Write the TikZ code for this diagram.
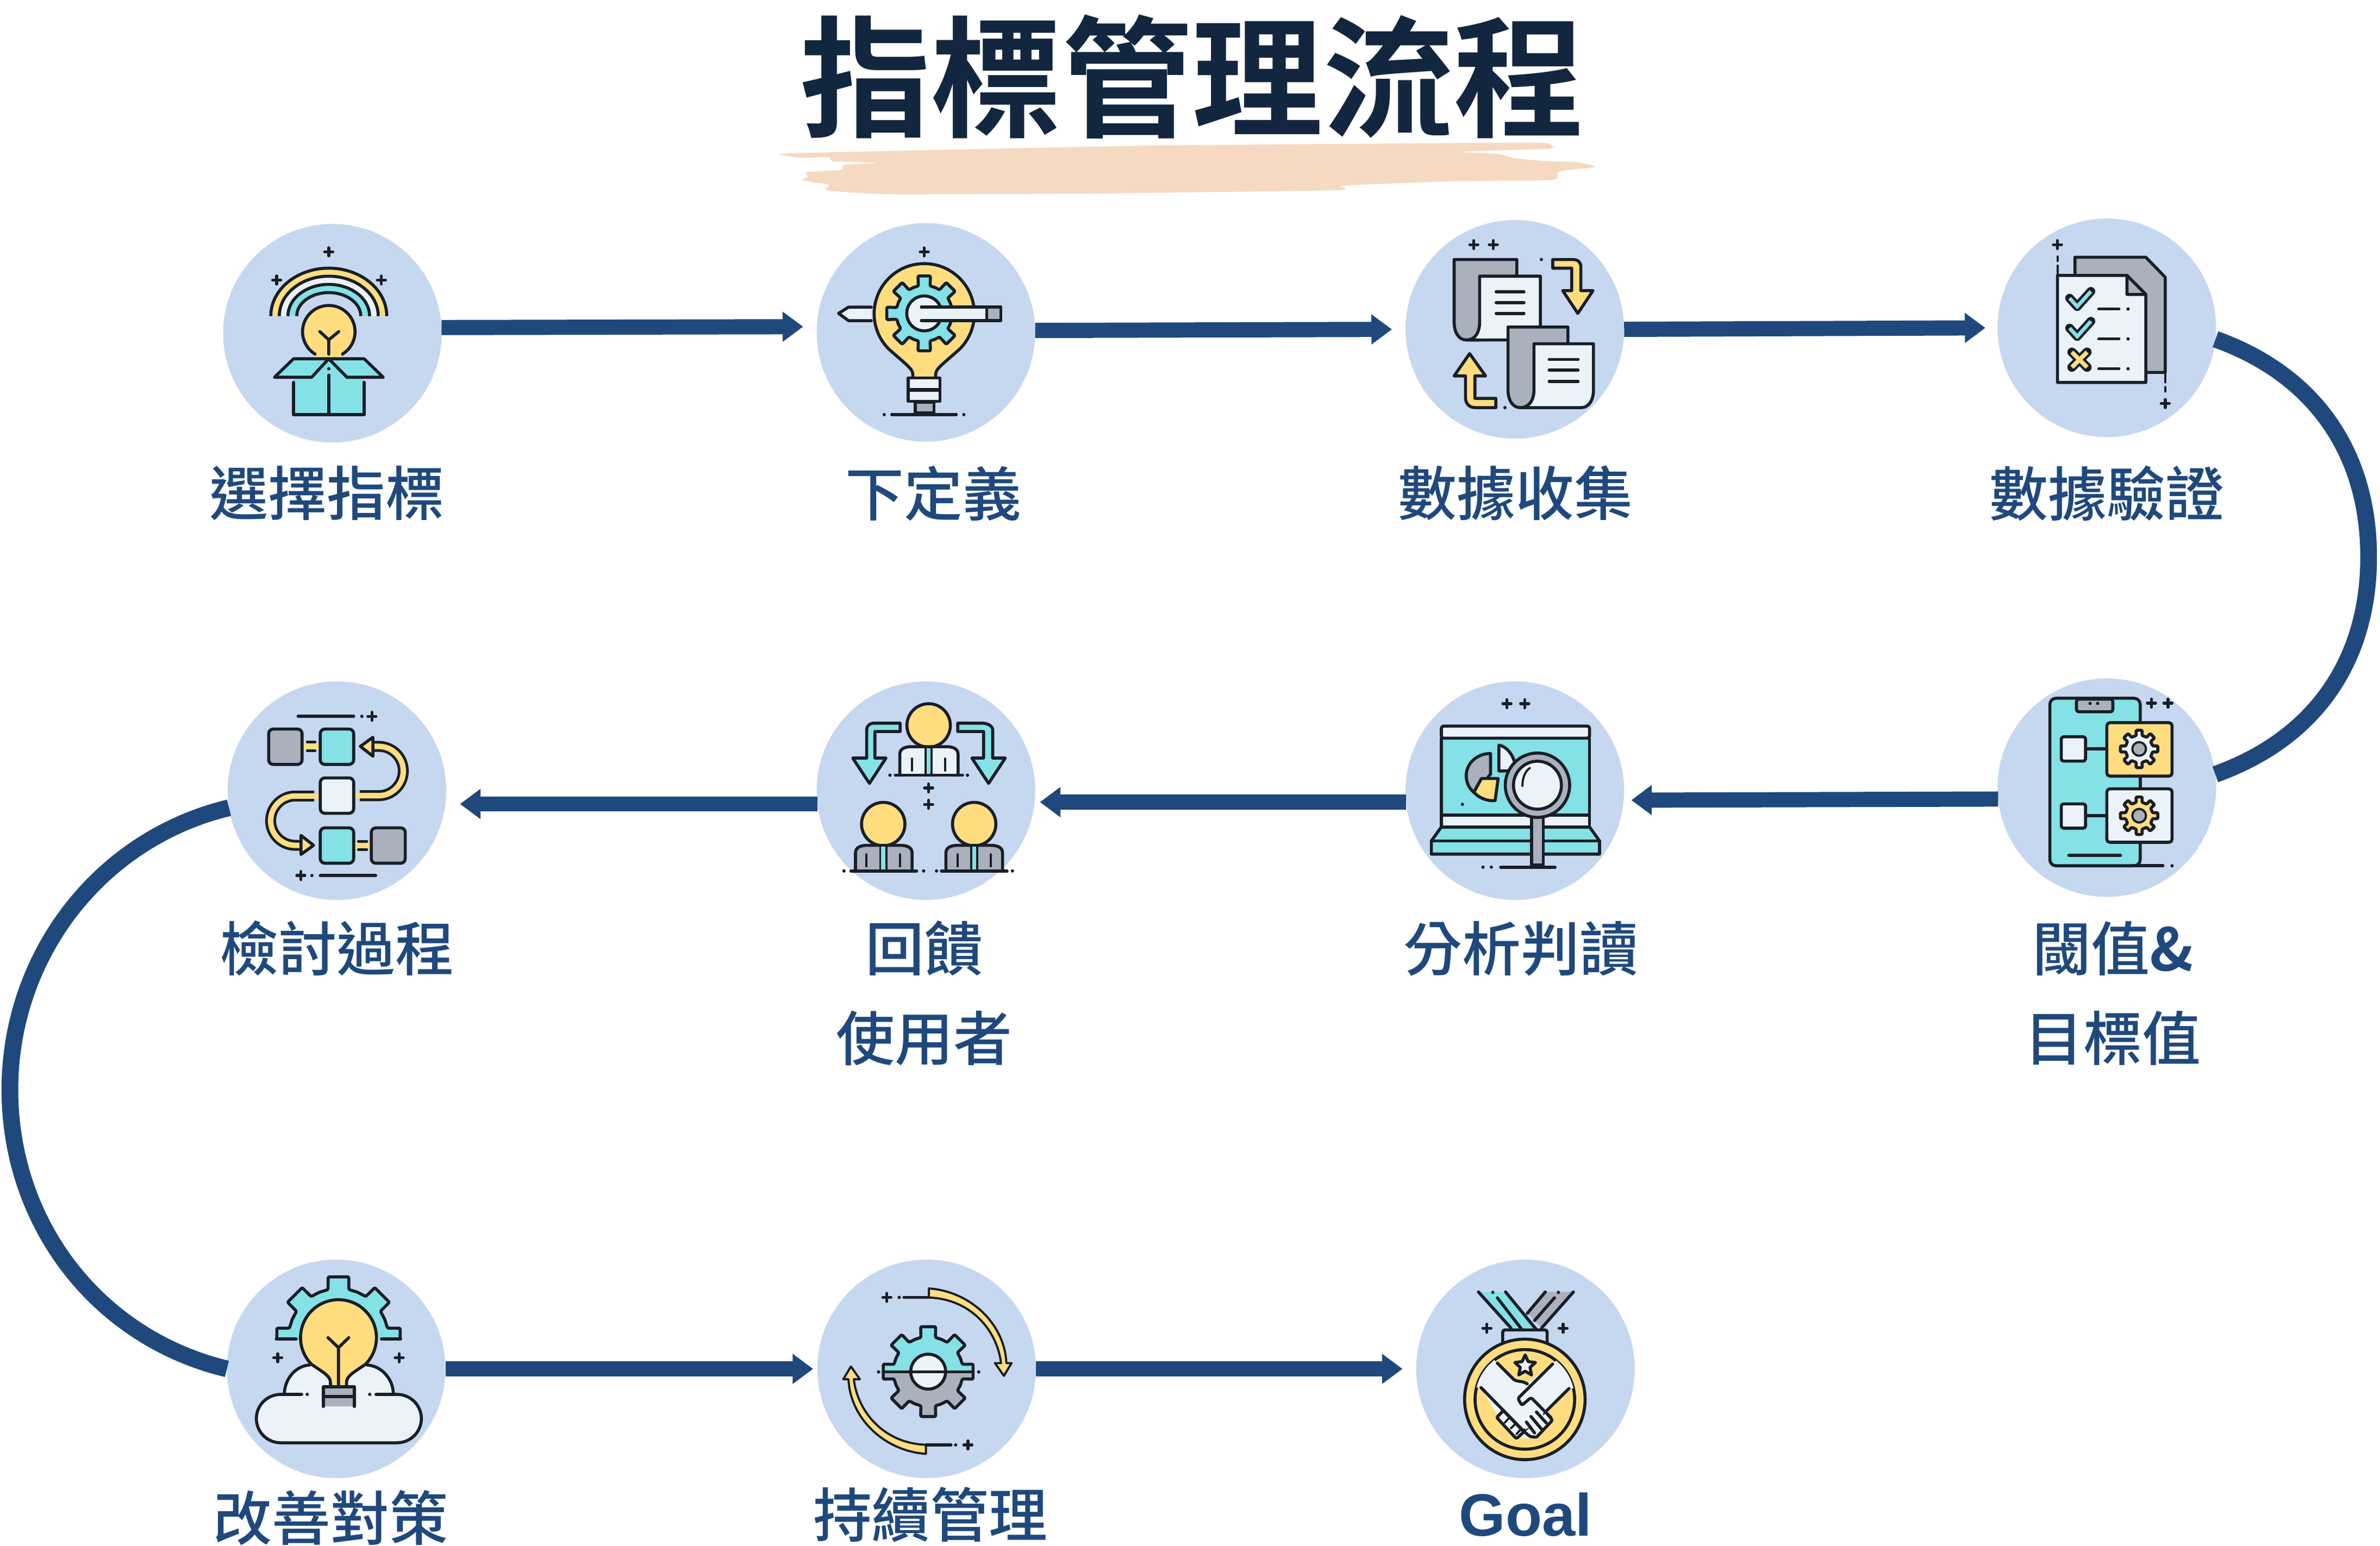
\documentclass[tikz,border=0pt]{standalone}
\usepackage{fontspec}
\usetikzlibrary{arrows.meta}
\newfontfamily\lab{Noto Sans CJK TC Medium}
\newfontfamily\ttl{Noto Sans CJK TC Bold}
\newfontfamily\gol{Liberation Sans}[BoldFont={Liberation Sans Bold}]
\definecolor{flow}{HTML}{1F497D}
\definecolor{disc}{HTML}{C6D8F0}
\definecolor{brush}{HTML}{F5D9C1}
\definecolor{ttlc}{HTML}{12263F}
\definecolor{ink}{HTML}{191E27}
\definecolor{icy}{HTML}{FFDD7F}
\definecolor{icc}{HTML}{84E1E6}
\definecolor{icl}{HTML}{ECF3F8}
\definecolor{icg}{HTML}{AAB1BC}
\tikzset{
 x=1mm,y=-1mm,
 disc node/.style={circle,fill=disc,inner sep=0,outer sep=0,minimum size=144mm},
 conn/.style={draw=flow,line width=10mm,-{Triangle[length=13.5mm,width=19mm]}},
 arcconn/.style={draw=flow,line width=11mm},
 lbl/.style={text=flow,inner sep=0,font=\fontsize{110}{110}\selectfont\lab},
 ic/.style={draw=ink,line width=2mm,line join=round,line cap=round},
 icthin/.style={draw=ink,line width=1.4mm,line join=round,line cap=round},
}
\newcommand\spk[2]{\begin{scope}[shift={(#1,#2)}]\draw[ink,line width=1.9mm,line cap=round] (-2.7,0)--(2.7,0) (0,-2.7)--(0,2.7);\end{scope}}
\newcommand\dotm[2]{\fill[ink] (#1,#2) circle[radius=1.1];}
% x, y, Rout, Rin, hole, fill
\newcommand\gearm[6]{\begin{scope}[shift={(#1,#2)}]
 \filldraw[ic,fill=#6,rounded corners=.8mm] (-12:#4) \foreach \a in {0,45,...,315} { -- (\a-12:#4) -- (\a-9.5:#3) -- (\a+9.5:#3) -- (\a+12:#4) -- (\a+22.5:#4) } -- cycle;
 \end{scope}}
% cx, cy, r, yneck, halfneck
\newcommand\bulbm[5]{\filldraw[ic,fill=icy,shift={(#1,#2)}] (-#5,#4-#2) -- (-#5,#4-#2-3) .. controls (-#5,#4-#2-7) and (-#5-3.5,#4-#2-9) .. (135:#3) arc[start angle=135,end angle=405,radius=#3] .. controls (#5+3.5,#4-#2-9) and (#5,#4-#2-7) .. (#5,#4-#2-3) -- (#5,#4-#2);}
% cx, cy head, bodyfill, x1, x2, ybottom
\newcommand\personm[6]{\filldraw[ic,fill=icy] (#1,#2) circle[radius=14.3];
 \filldraw[ic,fill=#3] (#4,#6) -- (#4,#2+19) .. controls (#4,#2+15) and (#4+4,#2+14) .. (#4+8,#2+14) -- (#5-8,#2+14) .. controls (#5-4,#2+14) and (#5,#2+15) .. (#5,#2+19) -- (#5,#6);
 \fill[icc] (#1-1.6,#2+15) rectangle (#1+1.6,#6);
 \draw[icthin] (#1-2,#2+15) -- (#1-2,#6) (#1+2,#2+15) -- (#1+2,#6) (#1-11,#6-11) -- (#1-11,#6-3) (#1+11,#6-11) -- (#1+11,#6-3);
 \draw[ic] (#4-3,#6) -- (#5+3,#6);}
\newcommand\swoop{\draw[ink,line width=7.2mm] (237,524.3) -- (249.5,524.3) .. controls (258.4,524.3) and (265.7,517) .. (265.7,508) .. controls (265.7,499) and (258.4,491.8) .. (249.5,491.8) -- (244,491.8);
 \draw[icy,line width=3.6mm] (233,524.3) -- (249.5,524.3) .. controls (258.4,524.3) and (265.7,517) .. (265.7,508) .. controls (265.7,499) and (258.4,491.8) .. (249.5,491.8) -- (244,491.8);
 \filldraw[ic,fill=icy] (237.4,491.8) -- (245.7,485.8) -- (245.7,498.3) -- cycle;}
\newcommand\crescent{\filldraw[icthin,fill=icy] (612,849) .. controls (640,851) and (662,873) .. (663,898.2) -- (666.4,898.2) -- (661.4,906.6) -- (655.5,898.2) -- (659.5,898.2) .. controls (657,877) and (640,856) .. (612,855) -- cycle;
 \draw[ic] (595.5,854.9) -- (612,854.9);
 \dotm{592.4}{854.9}\spk{584.3}{854.9}}
\begin{document}
\begin{tikzpicture}
\useasboundingbox (0,0) rectangle (1568,1018.7);
\fill[white] (0,0) rectangle (1568,1018.7);
% brush
\fill[brush] plot[smooth cycle,tension=.3] coordinates {(516,102.3)(525,100.9)(757,96)(1005.6,94)(1022,96)(1020,98)(962,100)(987,101.5)(998.3,104.4)(1020,106.2)(1038.5,106.8)(1051,110)(1027.5,112.8)(1025.6,117.6)(1016.5,118.8)(958,119.4)(885,122.3)(881,125.3)(720.5,127.5)(589,128)(549,126)(544,124.7)(546,121.7)(528.7,118.8)(532.4,116.4)(531,113.4)(554.3,112)(556,108.6)(578,107.4)(548.8,106.2)(546,103.6)(527,104)};
\node[inner sep=0,text=ttlc,font=\fontsize{245}{245}\selectfont\ttl] (title) at (785.5,50.5) {指標管理流程};
% discs
\node[disc node] (n1) at (219,219.6) {};
\node[disc node] (n2) at (610,219) {};
\node[disc node] (n3) at (998,217) {};
\node[disc node] (n4) at (1388,216) {};
\node[disc node] (n5) at (1388,519) {};
\node[disc node] (n6) at (998,521) {};
\node[disc node] (n7) at (610,521) {};
\node[disc node] (n8) at (222,521) {};
\node[disc node] (n9) at (221.5,902) {};
\node[disc node] (n10) at (610.5,902) {};
\node[disc node] (n11) at (1005,902) {};
% connectors
\draw[conn,shorten >=9mm] (n1.3.2) -- (n2.177.3);
\draw[conn,shorten >=9mm] (n2.1.75) -- (n3.180);
\draw[conn,shorten >=8mm] (n3.0.8) -- (n4.180);
\draw[conn,shorten >=5mm] (n5.186.9) -- (n6.-5.3);
\draw[conn,shorten >=3.5mm] (n6.186.8) -- (n7.-6.8);
\draw[conn,shorten >=9.6mm] (n7.187.6) -- (n8.-7.6);
\draw[conn,shorten >=2.8mm] (n9.0) -- (n10.180);
\draw[conn,shorten >=9mm] (n10.0) -- (n11.180);
\coordinate (rmid) at (1560.5,367);
\coordinate (lmid) at (6.5,718);
\draw[arcconn] (n4.-6) .. controls +(67,24) and (1560.5,300) .. (rmid) .. controls (1560.5,434) and +(67,-24) .. (n5.7);
\draw[arcconn] (n8.189.6) .. controls +(-85.5,20.5) and (6.5,630) .. (lmid) .. controls (6.5,806) and +(-85.5,-20.5) .. (n9.180.8);
% icon 1
\spk{216.6}{165.9}\spk{182.3}{184.5}\spk{251.3}{184.5}
\filldraw[ic,fill=icy,line cap=butt] (178.4,208.3) arc[start angle=180,end angle=360,x radius=38.2,y radius=31.6];
\filldraw[ic,fill=icl,line cap=butt] (184,208.3) arc[start angle=180,end angle=360,x radius=32.6,y radius=26.3];
\filldraw[ic,fill=icc,line cap=butt] (189.7,208.3) arc[start angle=180,end angle=360,x radius=26.9,y radius=20.9];
\filldraw[ic,fill=disc,line cap=butt] (195.5,208.3) arc[start angle=180,end angle=360,x radius=21.1,y radius=15.5];
\fill[icc] (193.4,245) rectangle (239.9,273.2);
\fill[icc] (205.3,248.6) -- (216.6,237.6) -- (228.6,248.6) -- cycle;
\fill[icy] (207.7,233) rectangle (225.5,236.4);
\filldraw[ic,fill=icy] (207.7,233.4) arc[start angle=121,end angle=419,radius=17.3];
\draw[line width=2.4mm,icy] (208.5,234.3) -- (224.7,234.3);
\draw[ic] (210.7,218.5) -- (216.6,223.9) -- (223.2,218.5) (216.6,223.9) -- (216.6,233.4);
\filldraw[ic,fill=icc] (193.4,236.4) -- (216.6,236.4) -- (205.3,248.6) -- (180.8,248.6) -- cycle;
\filldraw[ic,fill=icc] (239.9,236.4) -- (216.6,236.4) -- (228.6,248.6) -- (252.5,248.6) -- cycle;
\dotm{216.6}{243}
\draw[ic] (216.6,247.2) -- (216.6,272.8) (193.4,251.9) -- (193.4,273.2) -- (239.9,273.2) -- (239.9,251.9);
% icon 2
\spk{608.9}{166}
\bulbm{608.9}{206.7}{33}{250}{7.5}
\gearm{608.9}{206.5}{25}{18.5}{12}{icc}
\filldraw[ic,fill=icl] (608.9,206.5) circle[radius=11.5];
\fill[icy] (618,202.4) rectangle (642,211.3);
\filldraw[ic,fill=icl] (574,202.4) -- (559,202.4) -- (552.5,206.5) -- (559,211.3) -- (574,211.3);
\filldraw[ic,fill=icl] (607,202.4) -- (659.4,202.4) -- (659.4,211.3) -- (607,211.3);
\filldraw[ic,fill=icg] (650,202.4) rectangle (659.4,211.3);
\filldraw[ic,fill=icl] (598.4,249) rectangle (619.3,256.5);
\filldraw[ic,fill=icl] (598.4,257.3) rectangle (619.3,264.5);
\filldraw[ic,fill=icg] (603,265) -- (603,272) -- (615.4,272) -- (615.4,265) -- cycle;
\draw[ic] (587.5,273.2) -- (630,273.2);
\dotm{582.5}{273.2}\dotm{635}{273.2}
% icon 3
\spk{971}{161.2}\spk{983.8}{161.2}
\filldraw[ic,fill=icg] (958,171) -- (999.3,171) -- (999.3,200) -- (975,224) -- (966,224) .. controls (961,224) and (958,219) .. (958,212) -- cycle;
\filldraw[ic,fill=icl] (974.8,182) -- (1014.8,182) -- (1014.8,215) -- (993.5,224) -- (966,224) .. controls (972,224) and (974.8,219) .. (974.8,212) -- cycle;
\draw[ic] (985.7,192.2) -- (1004,192.2) (985.7,199.4) -- (1004,199.4) (985.7,206.5) -- (1004,206.5);
\filldraw[ic,fill=icg] (993.5,215.5) -- (1033,215.5) -- (1033,245) -- (1010,268.6) -- (1001.5,268.6) .. controls (996.5,268.6) and (993.5,263.5) .. (993.5,257) -- cycle;
\filldraw[ic,fill=icl] (1010.6,226.5) -- (1049.8,226.5) -- (1049.8,257) .. controls (1049.8,263.5) and (1046.8,268.6) .. (1041.8,268.6) -- (1001.5,268.6) .. controls (1007.5,268.6) and (1010.6,263.5) .. (1010.6,257) -- cycle;
\draw[ic] (1020.6,236.8) -- (1039.7,236.8) (1020.6,243.9) -- (1039.7,243.9) (1020.6,251.3) -- (1039.7,251.3);
\filldraw[ic,fill=icy] (1023,171) -- (1036,171) .. controls (1040,171) and (1041.5,173) .. (1041.5,176) -- (1041.5,191.5) -- (1049.5,191.5) -- (1039.5,206.5) -- (1029.5,191.5) -- (1035.5,191.5) -- (1035.5,176.7) -- (1023,176.7) -- cycle;
\dotm{1015.5}{171}
\filldraw[ic,fill=icy] (985.5,268.6) -- (972,268.6) .. controls (968,268.6) and (965.5,266) .. (965.5,262) -- (965.5,247.7) -- (958,247.7) -- (968.2,233) -- (978.7,247.7) -- (971.7,247.7) -- (971.7,262.5) -- (985.5,262.5) -- cycle;
\dotm{991.5}{268.6}
% icon 4
\spk{1355.5}{161.2}
\draw[icthin] (1355.5,169) -- (1355.5,172) (1355.5,175) -- (1355.5,181);
\filldraw[ic,fill=icg] (1367,181) -- (1367,169.5) -- (1413.7,169.5) -- (1426.5,182.7) -- (1426.5,245.4) -- (1414,245.4) -- cycle;
\filldraw[ic,fill=icl] (1355.5,181.5) -- (1401.3,181.5) -- (1413.7,194) -- (1413.7,252) -- (1355.5,252) -- cycle;
\filldraw[ic,fill=icg] (1401.3,181.5) -- (1413.7,194) -- (1401.3,194) -- cycle;
\foreach \yy in {0,19.7}{
 \draw[ink,line width=5.8mm,line join=round,line cap=round] (1363.5,196.5+\yy) -- (1368.5,202+\yy) -- (1377.5,192+\yy);
 \draw[icc,line width=2.4mm] (1363.5,196.5+\yy) -- (1368.5,202+\yy) -- (1377.5,192+\yy);}
\draw[ink,line width=6mm,line cap=round] (1365,232) -- (1375,242) (1375,232) -- (1365,242);
\draw[icy,line width=2.8mm] (1365,232) -- (1375,242) (1375,232) -- (1365,242);
\draw[ic] (1382.7,203.6) -- (1396,203.6) (1382.7,223.3) -- (1396,223.3) (1382.7,243) -- (1396,243);
\dotm{1402}{203.6}\dotm{1402}{223.3}\dotm{1402}{243}
\draw[icthin] (1426.5,246) -- (1426.5,252) (1426.5,255) -- (1426.5,258);
\spk{1426.5}{265.9}
% icon 5
\spk{1417.4}{463.3}\spk{1428.3}{463.3}
\filldraw[ic,fill=icc,rounded corners=4mm] (1350.5,460.1) rectangle (1410,570.5);
\filldraw[ic,fill=icg,rounded corners=1.5mm] (1368,460.7) -- (1368,469) -- (1392,469) -- (1392,460.7) -- cycle;
\fill[ink] (1377,463.5) circle[radius=1.1] (1382,463.5) circle[radius=1.1];
\draw[ic] (1374,493.5) -- (1388,493.5) (1374,537.5) -- (1388,537.5) (1410,511.4) -- (1410,519.8) (1363,563.7) -- (1397,563.7) (1405,570.5) -- (1425,570.5);
\dotm{1431}{570.5}
\filldraw[ic,fill=icl,rounded corners=1.5mm] (1358,485.5) rectangle (1374,501.5);
\filldraw[ic,fill=icl,rounded corners=1.5mm] (1358,529.7) rectangle (1374,545.7);
\filldraw[ic,fill=icy,rounded corners=2mm] (1388,476.2) rectangle (1431,511.4);
\filldraw[ic,fill=icl,rounded corners=2mm] (1388,519.8) rectangle (1431,555);
\gearm{1409.3}{493.5}{12.5}{9}{5}{icl}
\gearm{1409.3}{537.5}{12.5}{9}{5}{icy}
\filldraw[icthin,fill=icg] (1409.3,493.5) circle[radius=4.5] (1409.3,537.5) circle[radius=4.5];
% icon 6
\spk{992.8}{463.7}\spk{1004.5}{463.7}
\filldraw[ic,fill=icc] (949.6,544.9) -- (943,554.1) -- (943,562.8) -- (1053.8,562.8) -- (1053.8,554.1) -- (1047.2,544.9) -- cycle;
\draw[ic] (943,554.1) -- (1053.8,554.1);
\filldraw[ic,fill=icc] (949.6,486.4) rectangle (1047.2,537.1);
\filldraw[ic,fill=icl,rounded corners=1.5mm] (949.6,478.4) -- (949.6,486.4) -- (1047.2,486.4) -- (1047.2,478.4) -- cycle;
\filldraw[ic,fill=icl] (949.6,537.1) rectangle (1047.2,544.9);
\filldraw[ic,fill=icg] (982,510) -- (982,496.5) .. controls (973,496.5) and (966,503) .. (966,511) .. controls (966,516) and (968,520) .. (972,522.8) -- cycle;
\filldraw[ic,fill=icy] (987,513) -- (976,513) -- (971,522) .. controls (975,526.5) and (981,528) .. (985,527.5) -- cycle;
\filldraw[ic,fill=icl] (987.5,491) .. controls (993,492) and (998,498) .. (999,508) -- (987.5,508) -- cycle;
\dotm{963.5}{530}
\filldraw[ic,fill=icg] (1009,538) rectangle (1016.8,570);
\filldraw[ic,fill=icg] (1012.9,517.4) circle[radius=21.2];
\filldraw[ic,fill=icl] (1012.9,517.4) circle[radius=15.8];
\draw[icthin] (1003,518) .. controls (1003,512) and (1005,508) .. (1008,506);
\draw[ic] (988.7,571.4) -- (1024.5,571.4);
\dotm{977}{571.4}\dotm{982.5}{571.4}
% icon 7
\filldraw[ic,fill=icc] (593,476.5) -- (576,476.5) .. controls (573,476.5) and (571,478) .. (571,481) -- (571,499.5) -- (561.8,499.5) -- (572.8,516.2) -- (583.7,499.5) -- (576.4,499.5) -- (576.4,482) -- (593,482) -- cycle;
\filldraw[ic,fill=icc] (631,476.5) -- (647,476.5) .. controls (650,476.5) and (654,478) .. (654,481) -- (654,499.5) -- (662.3,499.5) -- (651.3,516.2) -- (640.3,499.5) -- (648,499.5) -- (648,482) -- (631,482) -- cycle;
\personm{611.8}{478}{icl}{592.8}{631.2}{510.8}
\dotm{586.3}{510.8}\dotm{637.4}{510.8}
\spk{611.8}{519.2}\spk{611.8}{530}
\personm{581.9}{543}{icg}{563.6}{600.9}{573.9}
\personm{641.8}{543}{icg}{623.2}{660.5}{573.9}
\dotm{556}{573.9}\dotm{608.5}{573.9}\dotm{617}{573.9}\dotm{667}{573.9}
% icon 8
\draw[ic] (196.4,472) -- (233,472) (211,576.9) -- (247.5,576.9);
\dotm{238.4}{472}\spk{245}{472}\dotm{205.5}{576.9}\spk{198.2}{576.9}
\fill[icy] (199,489.3) rectangle (211,494.3);
\draw[ic] (202.5,489) -- (207.5,489) (202.5,494.7) -- (207.5,494.7);
\fill[icy] (233,554.6) rectangle (244.6,559.6);
\draw[ic] (236.2,554.4) -- (241.6,554.4) (236.2,559.9) -- (241.6,559.9);
\swoop
\begin{scope}[rotate around={180:(222,524.4)}]\swoop\end{scope}
\filldraw[ic,fill=icg,rounded corners=3mm] (177,480.4) rectangle (199,503.7);
\filldraw[ic,fill=icc,rounded corners=3mm] (211,480.4) rectangle (233,503.7);
\filldraw[ic,fill=icl,rounded corners=3mm] (211,512.6) rectangle (233,535.9);
\filldraw[ic,fill=icc,rounded corners=3mm] (211,545.5) rectangle (233,568.8);
\filldraw[ic,fill=icg,rounded corners=3mm] (244.6,545.5) rectangle (267,568.8);
% icon 9
\spk{183}{894.7}\spk{263}{894.7}
\begin{scope}
\clip (170,830) rectangle (276,882.4);
\gearm{223}{882}{41.2}{33}{0}{icc}
\end{scope}
\draw[ic] (182,882.3) -- (195.2,882.3) (251.3,882.3) -- (263.9,882.3);
\fill[icl] (185,918.8) .. controls (176,918.8) and (168.9,926) .. (168.9,934.7) .. controls (168.9,943.5) and (176,950.7) .. (185,950.7) -- (261.5,950.7) .. controls (270.5,950.7) and (277.6,943.5) .. (277.6,934.7) .. controls (277.6,926) and (270.5,918.8) .. (261.5,918.8) -- (259.1,918.8) .. controls (258.5,908) and (251,900) .. (241.8,899.4) -- (204.1,899.4) .. controls (195,900) and (188,908) .. (187.4,918.8) -- cycle;
\draw[ic] (198.8,918.8) -- (185,918.8) .. controls (176,918.8) and (168.9,926) .. (168.9,934.7) .. controls (168.9,943.5) and (176,950.7) .. (185,950.7) -- (261.5,950.7) .. controls (270.5,950.7) and (277.6,943.5) .. (277.6,934.7) .. controls (277.6,926) and (270.5,918.8) .. (261.5,918.8) -- (247.7,918.8);
\draw[ic] (187.4,917.5) .. controls (188,908) and (195,900) .. (204.1,899.4) (259.1,917.5) .. controls (258.5,908) and (251,900) .. (241.8,899.4);
\dotm{202.4}{918.8}\dotm{243.6}{918.8}
\bulbm{223}{881.4}{25}{914}{5.3}
\draw[ic] (216.1,881.4) -- (223,888) -- (229.8,881.4) (223,888) -- (223,913);
\fill[icg] (213.1,913.7) rectangle (233.4,926.8);
\draw[ic] (213.1,926.8) -- (213.1,913.7) -- (233.4,913.7) -- (233.4,926.8) (213.1,920.2) -- (233.4,920.2);
% icon 10
\begin{scope}
\clip (570,870) rectangle (650,904);
\gearm{611.5}{903.8}{30}{23}{0}{icc}
\end{scope}
\begin{scope}
\clip (570,904) rectangle (650,940);
\gearm{611.5}{903.8}{30}{23}{0}{icg}
\end{scope}
\filldraw[ic,fill=icl] (611.5,903.8) circle[radius=11.5];
\draw[ic] (583,904) -- (640,904);
\dotm{578.8}{904}\dotm{644.8}{904}
\crescent
\begin{scope}[rotate around={180:(611,903.5)}]\crescent\end{scope}
% icon 11
\spk{979.6}{875.2}\spk{1029.8}{875.2}
\fill[icg] (1018.1,851.3) -- (1036.6,851.3) -- (1015.7,875) -- (1006.2,865.4) -- cycle;
\draw[ic] (1018.1,851.3) -- (1006.2,865.4) (1036.6,851.3) -- (1015.7,875) (1024.1,855.2) -- (1011,870.1);
\dotm{1026.7}{851.6}
\fill[icc] (974,851.3) -- (991.9,851.3) -- (1012.2,876.1) -- (995.4,876.7) -- cycle;
\draw[ic] (974,851.3) -- (995.4,875) (991.9,851.3) -- (1012.2,876.1) (986.5,855.2) -- (1002.6,876);
\dotm{983.5}{851.6}
\draw[ic,rounded corners=1.5mm] (990,884) -- (990,876.3) -- (1019.3,876.3) -- (1019.3,884);
\filldraw[ic,fill=icy] (1004.6,922.1) circle[radius=39.7];
\filldraw[ic,fill=icy] (1004.6,922.1) circle[radius=32.8];
\begin{scope}
\clip (1004.6,922.1) circle[radius=32.8];
\fill[icl] (983,894.7) -- (996.6,908.3) .. controls (999,911) and (1003,909.5) .. (1006.2,911.9) -- (1026,896) -- (1045,896) -- (1045,915) -- (1033.7,914.9) -- (1019.3,929.2) -- (1021.7,934) -- (1011,947.7) -- (1003,947.7) -- (987.1,933.4) -- (975.7,914.3) -- (960,914) -- (960,890) -- cycle;
\end{scope}
\filldraw[ic,fill=icl,rounded corners=1mm] (990.5,929.5) -- (986,934) -- (999,948) -- (1004,943.5) -- cycle;
\filldraw[ic,fill=icl,rounded corners=1mm] (1018,930) -- (1022.8,935.8) -- (1012.2,947.1) -- (1008,946.6) -- (1003.8,943) -- cycle;
\fill[icl] (996,925) -- (1018,925) -- (1016,935) -- (1005,942) -- cycle;
\draw[ic] (986.5,898.2) -- (996.6,908.3) .. controls (999,911) and (1003,909.5) .. (1006.2,911.9) (975.7,914.3) -- (1003.8,943) (1033.7,914.9) -- (1019.3,929.2);
\draw[ic,rounded corners=1.2mm] (1022.9,898.8) -- (1000,921.5) -- (1002.6,926) -- (1008.6,920.9) -- (1021.7,934);
\draw[icthin] (991.3,937.5) -- (994.5,934) (995.3,941.3) -- (998.5,938) (999,945) -- (1002,941.8);
\draw[ic] (1012.2,930.4) -- (1018.7,937.6) (1008.6,933.4) -- (1015.7,941.8) (1005.6,937) -- (1011,944.2);
\filldraw[ic,fill=icl] (1004.8,892.8) -- (1006.8,897.2) -- (1011.6,897.8) -- (1008,901) -- (1009,906) -- (1004.8,903.5) -- (1000.6,906) -- (1001.6,901) -- (998,897.8) -- (1002.8,897.2) -- cycle;
% labels
\node[lbl] (l1) at (215.5,325) {選擇指標};
\node[lbl] (l2) at (615,325) {下定義};
\node[lbl] (l3) at (998.5,325) {數據收集};
\node[lbl] (l4) at (1388,325) {數據驗證};
\node[lbl] (l5) at (1392,625) {閾值{\ttl\&}};
\node[lbl] (l5b) at (1392,684) {目標值};
\node[lbl] (l6) at (1002,625) {分析判讀};
\node[lbl] (l7) at (609,625) {回饋};
\node[lbl] (l7b) at (609,684) {使用者};
\node[lbl] (l8) at (222,625) {檢討過程};
\node[lbl] (l9) at (218,1000) {改善對策};
\node[lbl] (l10) at (613,998) {持續管理};
\node[lbl,font=\fontsize{112}{112}\selectfont\gol\bfseries] (l11) at (1005,998) {Goal};
\end{tikzpicture}
\end{document}
